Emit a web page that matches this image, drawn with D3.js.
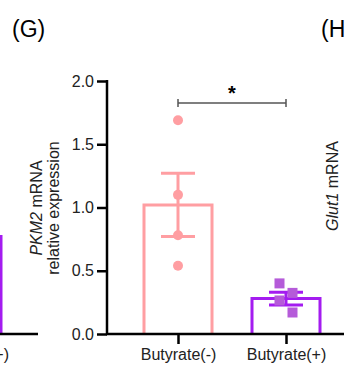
<!DOCTYPE html>
<html>
<head>
<meta charset="utf-8">
<script src="https://cdn.jsdelivr.net/npm/d3@7"></script>
<style>
  body { margin: 0; background: #fff; }
  svg { font-family: "Liberation Sans", Arial, sans-serif; }
</style>
</head>
<body>
<div id="chart"></div>
<script>
// Panel (G): PKM2 mRNA relative expression

const groups = ['Butyrate(-)', 'Butyrate(+)'];
const means = [1.02, 0.28];
const sems = [0.25, 0.05];
const pointsNeg = [1.69, 1.10, 0.78, 0.54];
const pointsPos = [0.40, 0.325, 0.265, 0.17];
const yTicks = [0, 0.5, 1.0, 1.5, 2.0];

const pink = '#ff9ea2';
const purple = '#a41cf0';
const purpleFill = '#b55bd9';

const width = 347, height = 374;

const svg = d3.select('#chart')
    .append('svg')
    .attr('width', width)
    .attr('height', height);

// scales
const y = d3.scaleLinear()
    .domain([0, 2])
    .range([334, 81]);

const x = d3.scalePoint()
    .domain(groups)
    .range([178, 286]);

const barW = 68;

// bars
svg.append('g')
    .selectAll('path')
    .data(groups)
    .join('path')
    .attr('d', (d, i) => {
        const x0 = x(d) - barW / 2, x1 = x(d) + barW / 2;
        return `M${x0},${y(0)}V${y(means[i])}H${x1}V${y(0)}`;
    })
    .attr('fill', 'none')
    .attr('stroke', (d, i) => i === 0 ? pink : purple)
    .attr('stroke-width', 3);

// error bars
const eb = svg.append('g');
groups.forEach((g, i) => {
    const c = i === 0 ? pink : purple;
    const lo = means[i] - sems[i], hi = means[i] + sems[i];
    eb.append('line')
        .attr('x1', x(g)).attr('x2', x(g))
        .attr('y1', y(lo)).attr('y2', y(hi))
        .attr('stroke', c).attr('stroke-width', 3);
    [lo, hi].forEach(v => {
        eb.append('line')
            .attr('x1', x(g) - 17).attr('x2', x(g) + 17)
            .attr('y1', y(v)).attr('y2', y(v))
            .attr('stroke', c).attr('stroke-width', 3);
    });
});

// points
svg.append('g')
    .selectAll('circle')
    .data(pointsNeg)
    .join('circle')
    .attr('cx', x(groups[0]))
    .attr('cy', d => y(d))
    .attr('r', 5)
    .attr('fill', pink);

svg.append('g')
    .selectAll('rect')
    .data(pointsPos)
    .join('rect')
    .attr('x', (d, i) => x(groups[1]) + (i % 2 === 0 ? -6.5 : 6.5) - 5)
    .attr('y', d => y(d) - 5)
    .attr('width', 10)
    .attr('height', 10)
    .attr('fill', purpleFill);

// axes
const yAxis = d3.axisLeft(y)
    .tickValues(yTicks)
    .tickFormat(d3.format('.1f'))
    .tickSize(10)
    .tickPadding(3);

const gy = svg.append('g')
    .attr('transform', 'translate(107,0)')
    .call(yAxis);
gy.select('.domain').remove();
gy.append('line')
    .attr('x1', 0).attr('x2', 0)
    .attr('y1', y(2) - 1).attr('y2', y(0) + 1)
    .attr('stroke', '#000').attr('stroke-width', 2.5);
gy.selectAll('.tick line').attr('stroke', '#000').attr('stroke-width', 2.5);
gy.selectAll('.tick text').attr('font-size', 16).attr('fill', '#222');

const xAxis = d3.axisBottom(x).tickSize(10).tickPadding(5);
const gx = svg.append('g')
    .attr('transform', `translate(0,${y(0)})`)
    .call(xAxis);
gx.select('.domain').remove();
gx.append('line')
    .attr('x1', 106).attr('x2', 344)
    .attr('stroke', '#000').attr('stroke-width', 2.5);
gx.selectAll('.tick line').attr('stroke', '#000').attr('stroke-width', 2.5);
gx.selectAll('.tick text').attr('font-size', 16).attr('fill', '#222');

// y label
const yl = svg.append('text')
    .attr('transform', 'translate(42,208) rotate(-90)')
    .attr('text-anchor', 'middle')
    .attr('font-size', 16)
    .attr('fill', '#222');
yl.append('tspan').attr('font-style', 'italic').text('PKM2');
yl.append('tspan').text(' mRNA');
svg.append('text')
    .attr('transform', 'translate(59,208) rotate(-90)')
    .attr('text-anchor', 'middle')
    .attr('font-size', 16)
    .attr('fill', '#222')
    .text('relative expression');

// significance bracket
const sig = svg.append('g').attr('stroke', '#555').attr('stroke-width', 1.5);
sig.append('line').attr('x1', x(groups[0])).attr('x2', x(groups[1])).attr('y1', 103).attr('y2', 103);
sig.append('line').attr('x1', x(groups[0])).attr('x2', x(groups[0])).attr('y1', 99).attr('y2', 107);
sig.append('line').attr('x1', x(groups[1])).attr('x2', x(groups[1])).attr('y1', 99).attr('y2', 107);
svg.append('text')
    .attr('x', (x(groups[0]) + x(groups[1])) / 2)
    .attr('y', 100)
    .attr('text-anchor', 'middle')
    .attr('font-size', 20)
    .attr('font-weight', 'bold')
    .text('*');

// panel labels
svg.append('text').attr('x', 12).attr('y', 37).attr('font-size', 23).text('(G)');
svg.append('text').attr('x', 321).attr('y', 37).attr('font-size', 23).text('(H');

// neighbouring panels (cut off at edges)
svg.append('line')
    .attr('x1', 1).attr('x2', 1).attr('y1', 235).attr('y2', 334)
    .attr('stroke', purple).attr('stroke-width', 3);
svg.append('line')
    .attr('x1', 0).attr('x2', 38).attr('y1', 334).attr('y2', 334)
    .attr('stroke', '#000').attr('stroke-width', 2.5);
svg.append('text')
    .attr('x', 9).attr('y', 360)
    .attr('text-anchor', 'end')
    .attr('font-size', 16).attr('fill', '#222')
    .text('Butyrate(+)');

const gl = svg.append('text')
    .attr('transform', 'translate(338,186) rotate(-90)')
    .attr('text-anchor', 'middle')
    .attr('font-size', 16)
    .attr('fill', '#222');
gl.append('tspan').attr('font-style', 'italic').text('Glut1');
gl.append('tspan').text(' mRNA');
</script>
</body>
</html>
